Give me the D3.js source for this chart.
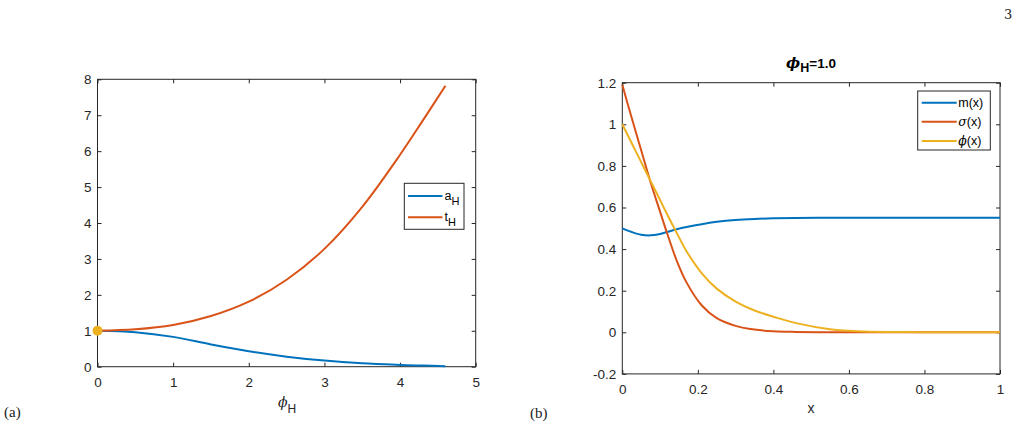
<!DOCTYPE html>
<html>
<head>
<meta charset="utf-8">
<script src="https://cdn.jsdelivr.net/npm/d3@7"></script>
<style>
  body { margin: 0; background: #fff; }
  svg { display: block; font-family: "Liberation Sans", Arial, sans-serif; }
</style>
</head>
<body>
<svg id="fig" width="1021" height="429"></svg>
<script>
// panel (a): a_H and t_H against phi_H
const phiH = [0, 0.5, 1, 1.5, 2, 2.5, 3, 3.5, 4, 4.3, 4.6];
const aH   = [1, 0.96, 0.83, 0.62, 0.43, 0.28, 0.17, 0.095, 0.05, 0.03, 0.015];
const tH   = [1, 1.04, 1.16, 1.41, 1.81, 2.42, 3.28, 4.45, 5.9, 6.85, 7.82];
const startPoint = [0, 1];
const aTicksX = [0, 1, 2, 3, 4, 5];
const aTicksY = [0, 1, 2, 3, 4, 5, 6, 7, 8];

// panel (b): profiles for phi_H = 1.0
const xs    = [0, 0.025, 0.05, 0.075, 0.1, 0.118, 0.144, 0.17, 0.21, 0.25, 0.3, 0.35, 0.4, 0.46, 0.55, 0.64, 0.75, 0.85, 1.0];
const mX    = [0.5, 0.482, 0.469, 0.466, 0.473, 0.482, 0.495, 0.506, 0.520, 0.531, 0.540, 0.545, 0.548, 0.550, 0.551, 0.551, 0.551, 0.551, 0.551];
const sigX  = [1.19, 1.03, 0.875, 0.72, 0.58, 0.48, 0.345, 0.24, 0.13, 0.068, 0.031, 0.013, 0.005, 0.002, 0.0005, 0, 0, 0, 0];
const phiX  = [1.0, 0.909, 0.818, 0.727, 0.636, 0.57, 0.478, 0.39, 0.285, 0.21, 0.148, 0.105, 0.075, 0.044, 0.015, 0.004, 0.001, 0, 0];
const bTicksX = [0, 0.2, 0.4, 0.6, 0.8, 1];
const bTicksY = [-0.2, 0, 0.2, 0.4, 0.6, 0.8, 1, 1.2];

const BLUE = "#0072BD", RED = "#D95319", YELLOW = "#EDB120";

const svg = d3.select("#fig");

// page decorations
svg.append("text").attr("x", 1004).attr("y", 19)
  .style("font-family", "'DejaVu Serif', 'Liberation Serif', serif").style("font-size", "13px")
  .attr("fill", "#222").text("3");
svg.append("text").attr("x", 4).attr("y", 417)
  .style("font-family", "'Liberation Serif', serif").style("font-size", "15px")
  .attr("fill", "#222").text("(a)");
svg.append("text").attr("x", 530).attr("y", 418)
  .style("font-family", "'Liberation Serif', serif").style("font-size", "15px")
  .attr("fill", "#222").text("(b)");

function styleAxis(s) {
  s.select(".domain").remove();
  s.selectAll(".tick line").attr("stroke", "#262626");
  s.selectAll(".tick text")
    .attr("fill", "#262626")
    .style("font-family", "'Liberation Sans', Arial, sans-serif")
    .style("font-size", "13.5px");
}

function panel(box, xDom, yDom, xt, yt, fmtX, fmtY) {
  const x = d3.scaleLinear().domain(xDom).range([box.l, box.r]);
  const y = d3.scaleLinear().domain(yDom).range([box.b, box.t]);
  const g = svg.append("g");

  g.append("g").attr("transform", `translate(0,${box.b})`)
    .call(d3.axisBottom(x).tickValues(xt).tickSizeInner(-4).tickSizeOuter(0).tickPadding(11).tickFormat(fmtX))
    .call(styleAxis);
  g.append("g").attr("transform", `translate(${box.l},0)`)
    .call(d3.axisLeft(y).tickValues(yt).tickSizeInner(-4).tickSizeOuter(0).tickPadding(6).tickFormat(fmtY))
    .call(styleAxis);
  g.append("g").attr("transform", `translate(0,${box.t})`)
    .call(d3.axisTop(x).tickValues(xt).tickSizeInner(-4).tickSizeOuter(0).tickFormat(""))
    .call(styleAxis);
  g.append("g").attr("transform", `translate(${box.r},0)`)
    .call(d3.axisRight(y).tickValues(yt).tickSizeInner(-4).tickSizeOuter(0).tickFormat(""))
    .call(styleAxis);

  g.append("rect")
    .attr("x", box.l).attr("y", box.t)
    .attr("width", box.r - box.l).attr("height", box.b - box.t)
    .attr("fill", "none").attr("stroke", "#262626").attr("stroke-width", 1);
  return { x, y, g };
}

function drawLine(p, xv, yv, color) {
  const line = d3.line().x(d => p.x(d[0])).y(d => p.y(d[1])).curve(d3.curveCatmullRom.alpha(0.5));
  p.g.append("path")
    .datum(xv.map((v, i) => [v, yv[i]]))
    .attr("d", line)
    .attr("fill", "none").attr("stroke", color).attr("stroke-width", 2);
}

function legend(items, bx, by, bw, bh, lineX0, lineX1, textX, rows) {
  svg.append("rect").attr("x", bx).attr("y", by).attr("width", bw).attr("height", bh)
    .attr("fill", "#fff").attr("stroke", "#262626").attr("stroke-width", 1);
  items.forEach((it, i) => {
    svg.append("line").attr("x1", lineX0).attr("x2", lineX1).attr("y1", rows[i]).attr("y2", rows[i])
      .attr("stroke", it.color).attr("stroke-width", 2);
    const t = svg.append("text").attr("x", textX).attr("y", rows[i] + 4)
      .attr("fill", "#000").style("font-size", "12.5px");
    it.label(t);
  });
}

// ---- panel (a)
const pa = panel({ l: 97.5, r: 475.7, t: 79.3, b: 366.7 }, [0, 5], [0, 8], aTicksX, aTicksY, d3.format("d"), d3.format("d"));
drawLine(pa, phiH, aH, BLUE);
drawLine(pa, phiH, tH, RED);
pa.g.append("circle").attr("cx", pa.x(startPoint[0])).attr("cy", pa.y(startPoint[1]))
  .attr("r", 5).attr("fill", YELLOW);

// x label phi_H
const xla = svg.append("text").attr("x", 278).attr("y", 407).attr("fill", "#262626");
xla.append("tspan").style("font-family", "'DejaVu Serif', serif").style("font-style", "italic").style("font-size", "14px").text("ϕ");
xla.append("tspan").attr("dy", 6).style("font-size", "12px").text("H");

legend([
  { color: BLUE, label: t => { t.append("tspan").text("a"); t.append("tspan").attr("dy", 5).style("font-size", "11px").text("H"); } },
  { color: RED,  label: t => { t.append("tspan").text("t"); t.append("tspan").attr("dy", 5).style("font-size", "11px").text("H"); } }
], 404.3, 183.3, 59.7, 46, 408, 442.5, 444.5, [196, 217.3]);

// ---- panel (b)
const fmtB = d => d === 0 ? "0" : String(+d.toFixed(1));
const pb = panel({ l: 622.3, r: 1000, t: 82.7, b: 373.9 }, [0, 1], [-0.2, 1.2], bTicksX, bTicksY, fmtB, fmtB);
drawLine(pb, xs, mX, BLUE);
drawLine(pb, xs, sigX, RED);
drawLine(pb, xs, phiX, YELLOW);

// title
const ttl = svg.append("text").attr("x", 811).attr("y", 68).attr("text-anchor", "middle")
  .attr("fill", "#000").style("font-weight", "bold").style("font-size", "13.5px");
ttl.append("tspan").style("font-family", "'DejaVu Serif', serif").style("font-style", "italic").style("font-size", "15px").text("ϕ");
ttl.append("tspan").attr("dy", 4).style("font-size", "12.5px").text("H");
ttl.append("tspan").attr("dy", -4).text("=1.0");

svg.append("text").attr("x", 811).attr("y", 413).attr("text-anchor", "middle")
  .attr("fill", "#262626").style("font-size", "14px").text("x");

const serifIt = t => t.style("font-family", "'DejaVu Serif', serif").style("font-style", "italic");
legend([
  { color: BLUE,   label: t => t.text("m(x)") },
  { color: RED,    label: t => { serifIt(t.append("tspan")).text("σ"); t.append("tspan").text("(x)"); } },
  { color: YELLOW, label: t => { serifIt(t.append("tspan")).text("ϕ"); t.append("tspan").text("(x)"); } }
], 917.7, 91, 72.6, 59, 921.7, 956.7, 958.3, [102.7, 121.7, 141]);
</script>
</body>
</html>
